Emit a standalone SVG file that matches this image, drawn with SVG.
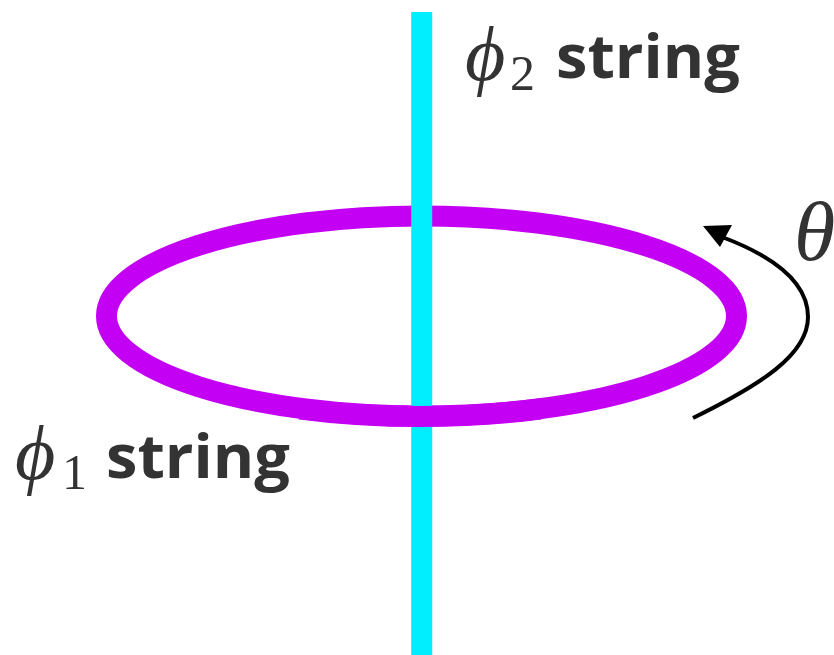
<svg xmlns="http://www.w3.org/2000/svg" width="834" height="655" viewBox="0 0 834 655">
<style>
.ring{fill:none;stroke:#C400F4;stroke-width:21}
.str{fill:none;stroke:#00EEFF;stroke-width:21}
.lbl{font-family:"Open Sans",Lato,sans-serif;font-weight:bold;font-size:61px;fill:#333333}
.math{font-family:"Liberation Serif","DejaVu Serif",serif;font-style:italic;fill:#333333}
.sub{font-family:"Liberation Serif","DejaVu Serif",serif;fill:#333333}
</style>
<rect width="834" height="655" fill="#ffffff"/>
<g id="phi1-ring">
<ellipse class="ring" cx="421.5" cy="316" rx="315" ry="100"/>
</g>
<g id="phi2-string">
<line class="str" x1="421.7" y1="12" x2="421.7" y2="655"/>
</g>
<g id="phi1-ring-front">
<path class="ring" d="M 300 409 A 315 100 0 0 0 540 409"/>
</g>
<g id="connectors">
<path d="M 693 418 C 760 385 808 355 808 317 C 808 285 778 258 722 237" fill="none" stroke="#000" stroke-width="4"/>
<polygon points="703,226 732,225 720,247" fill="#000"/>
</g>
<g id="label-phi2">
<text class="math" x="465" y="80" font-size="78">ϕ</text>
<text class="sub" x="510" y="90" font-size="50">2</text>
<text class="lbl" x="556" y="78" textLength="184" lengthAdjust="spacingAndGlyphs">string</text>
</g>
<g id="label-phi1">
<text class="math" x="15" y="479" font-size="78">ϕ</text>
<text class="sub" x="62" y="489" font-size="50">1</text>
<text class="lbl" x="106" y="478" textLength="184" lengthAdjust="spacingAndGlyphs">string</text>
</g>
<g id="label-theta">
<text class="math" x="794" y="260" font-size="84">θ</text>
</g>
</svg>
